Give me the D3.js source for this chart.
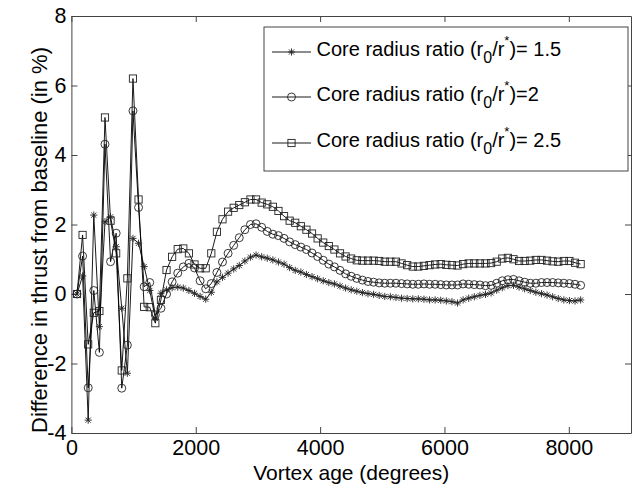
<!DOCTYPE html>
<html>
<head>
<meta charset="utf-8">
<script src="https://cdn.jsdelivr.net/npm/d3@7"></script>
<style>
  body { margin: 0; background: #fff; }
  text { font-family: "Liberation Sans", Arial, sans-serif; }
</style>
</head>
<body>
<div id="chart"></div>
<script>
// vortex age sample points (degrees)
var ages = [90, 180, 270, 360, 450, 540, 630, 720, 810, 900, 990, 1080, 1170, 1260, 1350, 1440,
  1530, 1620, 1710, 1800, 1890, 1980, 2070, 2160, 2250, 2340, 2430, 2520, 2610, 2700, 2790, 2880,
  2970, 3060, 3150, 3240, 3330, 3420, 3510, 3600, 3690, 3780, 3870, 3960, 4050, 4140, 4230, 4320,
  4410, 4500, 4590, 4680, 4770, 4860, 4950, 5040, 5130, 5220, 5310, 5400, 5490, 5580, 5670, 5760,
  5850, 5940, 6030, 6120, 6210, 6300, 6390, 6480, 6570, 6660, 6750, 6840, 6930, 7020, 7110, 7200,
  7290, 7380, 7470, 7560, 7650, 7740, 7830, 7920, 8010, 8100, 8190];

// core radius ratio 1.5
var ratio15 = [0, 0.52, -3.63, 2.27, -0.94, 2.08, 2.22, 1.36, -0.41, -2.28, 1.6, 1.46, 0.79, 0.1, -0.7, 0.02,
  0.12, 0.18, 0.2, 0.17, 0.1, 0.02, -0.07, -0.15, 0.05, 0.35, 0.48, 0.6, 0.72, 0.82, 0.95, 1.06,
  1.12, 1.07, 1.03, 0.98, 0.92, 0.86, 0.76, 0.68, 0.63, 0.56, 0.5, 0.44, 0.38, 0.33, 0.29, 0.23,
  0.17, 0.12, 0.08, 0.04, 0.01, -0.01, -0.04, -0.07, -0.08, -0.1, -0.12, -0.13, -0.14, -0.14, -0.15, -0.17,
  -0.17, -0.18, -0.2, -0.22, -0.26, -0.17, -0.12, -0.08, -0.04, -0.01, 0.03, 0.11, 0.18, 0.24, 0.25, 0.2,
  0.15, 0.1, 0.05, 0.01, -0.03, -0.08, -0.13, -0.17, -0.19, -0.2, -0.17];

// core radius ratio 2
var ratio2 = [0, 1.09, -2.7, 0.1, -1.68, 4.31, 0.93, 1.75, -2.71, -1.47, 5.27, 2.49, 0.21, 0.33, -0.6, -0.41,
  0.0, 0.35, 0.6, 0.78, 0.88, 0.75, 0.38, 0.15, 0.3, 0.62, 0.92, 1.17, 1.4, 1.62, 1.85, 2.0,
  2.02, 1.92, 1.8, 1.72, 1.68, 1.6, 1.5, 1.42, 1.35, 1.28, 1.18, 1.08, 0.97, 0.86, 0.78, 0.68,
  0.58, 0.51, 0.45, 0.4, 0.36, 0.34, 0.32, 0.31, 0.31, 0.31, 0.3, 0.29, 0.28, 0.28, 0.29, 0.28,
  0.28, 0.27, 0.26, 0.26, 0.26, 0.29, 0.28, 0.27, 0.26, 0.24, 0.25, 0.31, 0.38, 0.41, 0.42, 0.38,
  0.34, 0.31, 0.31, 0.33, 0.33, 0.33, 0.32, 0.31, 0.3, 0.28, 0.25];

// core radius ratio 2.5
var ratio25 = [0, 1.7, -1.45, -0.54, -0.49, 5.08, 2.11, 1.17, -2.2, 0.45, 6.2, 2.72, -0.37, -0.38, -0.84, -0.17,
  0.69, 1.07, 1.29, 1.31, 1.17, 0.85, 0.74, 0.74, 1.17, 1.79, 2.15, 2.37, 2.48, 2.56, 2.64, 2.72,
  2.72, 2.63, 2.58, 2.51, 2.39, 2.24, 2.11, 2.05, 1.95, 1.85, 1.74, 1.6, 1.48, 1.38, 1.28, 1.17,
  1.08, 1.02, 0.97, 0.96, 0.96, 0.96, 0.95, 0.93, 0.93, 0.93, 0.88, 0.83, 0.79, 0.79, 0.81, 0.83,
  0.85, 0.86, 0.84, 0.83, 0.82, 0.86, 0.88, 0.88, 0.88, 0.88, 0.89, 0.93, 1.02, 1.04, 1.0, 0.95,
  0.95, 0.96, 0.98, 0.98, 0.96, 0.94, 0.93, 0.95, 0.95, 0.9, 0.86];

var seriesValues = [ratio15, ratio2, ratio25];
var seriesMarkers = ["star", "circle", "square"];
var legendRatios = ["= 1.5", "=2", "= 2.5"];

var xTicks = [0, 2000, 4000, 6000, 8000];
var yTicks = [-4, -2, 0, 2, 4, 6, 8];

var svgWidth = 633;
var svgHeight = 487;

var margin = {
  top: 16,
  right: 2,
  bottom: 54,
  left: 71.4
};

var width = svgWidth - margin.left - margin.right;
var height = svgHeight - margin.top - margin.bottom;

var axisColor = "#444";

var svg = d3.select("#chart")
  .append("svg")
  .attr("width", svgWidth)
  .attr("height", svgHeight);

var chartGroup = svg.append("g")
  .attr("transform", `translate(${margin.left}, ${margin.top})`);

var xScale = d3.scaleLinear().domain([0, 9000]).range([0, width]);
var yScale = d3.scaleLinear().domain([-4, 8]).range([height, 0]);

// axes, ticks pointing inward like matlab
function styleAxis(g) {
  g.selectAll("path").attr("stroke", axisColor);
  g.selectAll("line").attr("stroke", axisColor);
  g.selectAll("text")
    .attr("fill", "#000")
    .style("font-size", "21.5px")
    .style("font-family", "'Liberation Sans', Arial, sans-serif");
}

var fmt = function(d) { return String(d); };

chartGroup.append("g")
  .attr("transform", `translate(0, ${height})`)
  .call(d3.axisBottom(xScale).tickValues(xTicks).tickFormat(fmt).tickSizeInner(-6).tickSizeOuter(0).tickPadding(7))
  .call(styleAxis);

chartGroup.append("g")
  .call(d3.axisLeft(yScale).tickValues(yTicks).tickFormat(fmt).tickSizeInner(-6).tickSizeOuter(0).tickPadding(5))
  .call(styleAxis);

chartGroup.append("g")
  .call(d3.axisTop(xScale).tickValues(xTicks).tickFormat("").tickSizeInner(-6).tickSizeOuter(0))
  .call(styleAxis);

chartGroup.append("g")
  .attr("transform", `translate(${width}, 0)`)
  .call(d3.axisRight(yScale).tickValues(yTicks).tickFormat("").tickSizeInner(-6).tickSizeOuter(0))
  .call(styleAxis);

// series lines
var line = d3.line()
  .x(function(d, i) { return xScale(ages[i]); })
  .y(function(d) { return yScale(d); });

seriesValues.forEach(function(vals) {
  chartGroup.append("path")
    .attr("d", line(vals))
    .attr("fill", "none")
    .attr("stroke", "#000")
    .attr("stroke-width", 0.9);
});

function drawMarker(g, type, cx, cy) {
  if (type === "circle") {
    g.append("circle").attr("cx", cx).attr("cy", cy).attr("r", 4)
      .attr("fill", "none").attr("stroke", "#222").attr("stroke-width", 0.9);
  } else if (type === "square") {
    g.append("rect").attr("x", cx - 3.6).attr("y", cy - 3.6).attr("width", 7.2).attr("height", 7.2)
      .attr("fill", "none").attr("stroke", "#222").attr("stroke-width", 0.9);
  } else {
    var s = 3.6, dgn = 2.6;
    g.append("path")
      .attr("d", `M${cx},${cy - s}V${cy + s}M${cx - s},${cy}H${cx + s}` +
        `M${cx - dgn},${cy - dgn}L${cx + dgn},${cy + dgn}M${cx - dgn},${cy + dgn}L${cx + dgn},${cy - dgn}`)
      .attr("fill", "none").attr("stroke", "#222").attr("stroke-width", 0.9);
  }
}

seriesValues.forEach(function(vals, si) {
  var mg = chartGroup.append("g");
  vals.forEach(function(v, i) {
    drawMarker(mg, seriesMarkers[si], xScale(ages[i]), yScale(v));
  });
});

// legend
var legend = svg.append("g");
legend.append("rect")
  .attr("x", 264).attr("y", 27).attr("width", 364).attr("height", 144)
  .attr("fill", "#fff").attr("stroke", axisColor).attr("stroke-width", 1);

var rowY = [52, 97, 143];
legendRatios.forEach(function(r, i) {
  var y = rowY[i];
  legend.append("line")
    .attr("x1", 272).attr("x2", 311).attr("y1", y).attr("y2", y)
    .attr("stroke", "#000").attr("stroke-width", 0.9);
  drawMarker(legend, seriesMarkers[i], 291.5, y);
  var t = legend.append("text")
    .attr("x", 316.5).attr("y", y + 3.5)
    .style("font-size", "20px").attr("fill", "#000");
  t.append("tspan").text("Core radius ratio (r");
  t.append("tspan").attr("dy", 7).style("font-size", "16px").text("0");
  t.append("tspan").attr("dy", -7).text("/r");
  t.append("tspan").attr("dy", -11).style("font-size", "13px").text("*");
  t.append("tspan").attr("dy", 11).text(")" + r);
});

// axis titles
svg.append("text")
  .attr("x", margin.left + width / 2)
  .attr("y", 480)
  .attr("text-anchor", "middle")
  .style("font-size", "21px")
  .text("Vortex age (degrees)");

svg.append("text")
  .attr("transform", "rotate(-90)")
  .attr("x", -240)
  .attr("y", 47)
  .attr("text-anchor", "middle")
  .style("font-size", "22px")
  .text("Difference in thrust from baseline (in %)");
</script>
</body>
</html>
